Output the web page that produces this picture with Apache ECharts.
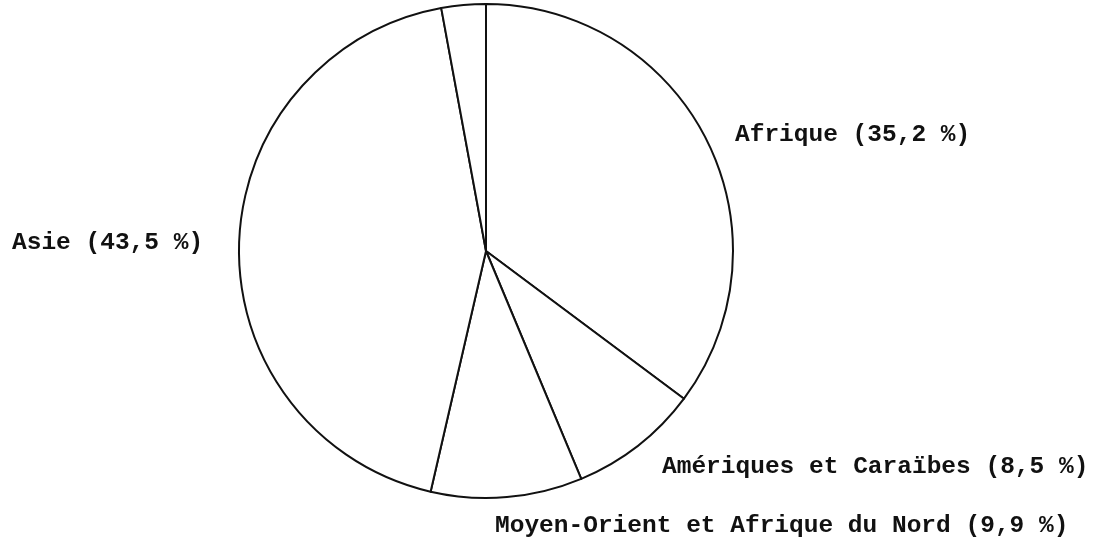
<!DOCTYPE html>
<html>
<head>
<meta charset="utf-8">
<script src="https://cdn.jsdelivr.net/npm/echarts@6/dist/echarts.min.js"></script>
<style>
    html, body { margin: 0; padding: 0; background: #fff; }
    #main { width: 1093px; height: 538px; }
</style>
</head>
<body>
<div id="main"></div>
<script>
// parts of the total, clockwise from the top
const regions = ['Afrique', 'Amériques et Caraïbes', 'Moyen-Orient et Afrique du Nord', 'Asie', 'Autres']
const shares = [35.2, 8.5, 9.9, 43.5, 2.9]
const labelled = [true, true, true, true, false]

// where each label sits (left edge, middle)
const labelPos = [[735, 135], [662, 467], [495, 526], [12, 243], [0, 0]]

const fmt = v => String(v).replace('.', ',')

let chart = echarts.init(document.getElementById('main'))

let option = {
    animation: false,
    series: [
        {
            type: 'pie',
            center: [486, 251],
            radius: 247,
            startAngle: 90,
            clockwise: true,
            avoidLabelOverlap: false,
            silent: true,
            itemStyle: {
                color: '#fff',
                borderColor: '#111',
                borderWidth: 2
            },
            label: {
                show: true,
                position: 'outside',
                color: '#111',
                fontFamily: 'Liberation Mono',
                fontWeight: 'bold',
                fontSize: 24.5,
                formatter: p => `${p.name} (${fmt(p.value)} %)`
            },
            labelLine: { show: false },
            labelLayout: params => {
                const p = labelPos[params.dataIndex]
                return { x: p[0], y: p[1], align: 'left', verticalAlign: 'middle' }
            },
            data: regions.map((name, i) => ({
                name,
                value: shares[i],
                label: { show: labelled[i] }
            }))
        }
    ]
}

chart.setOption(option)
</script>
</body>
</html>
